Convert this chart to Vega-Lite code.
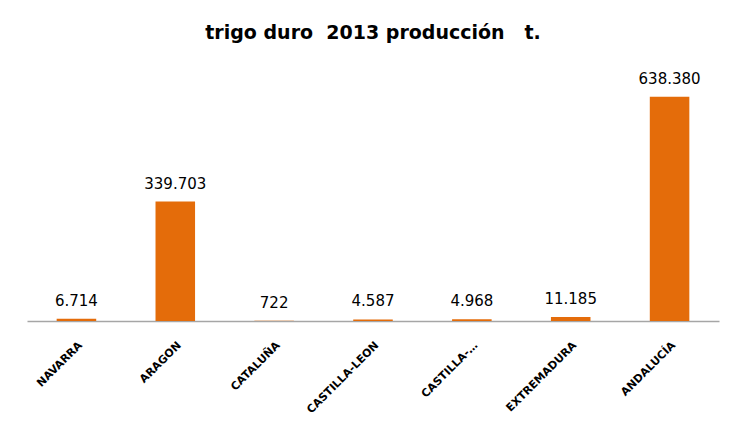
{
  "$schema": "https://vega.github.io/schema/vega-lite/v6.json",
  "width": 692,
  "height": 246,
  "autosize": "none",
  "padding": {"left": 27, "top": 75, "right": 12, "bottom": 112},
  "background": "white",
  "title": {
    "text": "trigo duro\u00a0 2013 producción\u00a0\u00a0 t.",
    "font": "DejaVu Sans",
    "fontSize": 19,
    "fontWeight": "bold",
    "color": "#000000",
    "anchor": "middle",
    "offset": 29
  },
  "config": {
    "view": {"stroke": null},
    "locale": {"number": {"decimal": ",", "thousands": ".", "grouping": [3], "currency": ["", " €"]}}
  },
  "data": {
    "values": [
      {"region": "NAVARRA", "t": 6714},
      {"region": "ARAGON", "t": 339703},
      {"region": "CATALUÑA", "t": 722},
      {"region": "CASTILLA-LEON", "t": 4587},
      {"region": "CASTILLA-…", "t": 4968},
      {"region": "EXTREMADURA", "t": 11185},
      {"region": "ANDALUCÍA", "t": 638380}
    ]
  },
  "encoding": {
    "x": {
      "field": "region",
      "type": "nominal",
      "sort": null,
      "scale": {"paddingInner": 0.6, "paddingOuter": 0.3},
      "axis": {
        "title": null,
        "labelAngle": -45,
        "labelFont": "DejaVu Sans",
        "labelFontSize": 11,
        "labelFontWeight": "bold",
        "labelColor": "#000000",
        "labelPadding": 18,
        "ticks": false,
        "domainColor": "#A6A6A6",
        "domainWidth": 1.5
      }
    },
    "y": {
      "field": "t",
      "type": "quantitative",
      "scale": {"domain": [0, 700000]},
      "axis": null
    }
  },
  "layer": [
    {"mark": {"type": "bar", "color": "#E46C0A"}},
    {
      "mark": {"type": "text", "font": "DejaVu Sans", "fontSize": 15, "color": "#000000", "baseline": "alphabetic", "dy": -13},
      "encoding": {"text": {"field": "t", "type": "quantitative", "format": ",d"}}
    }
  ]
}
